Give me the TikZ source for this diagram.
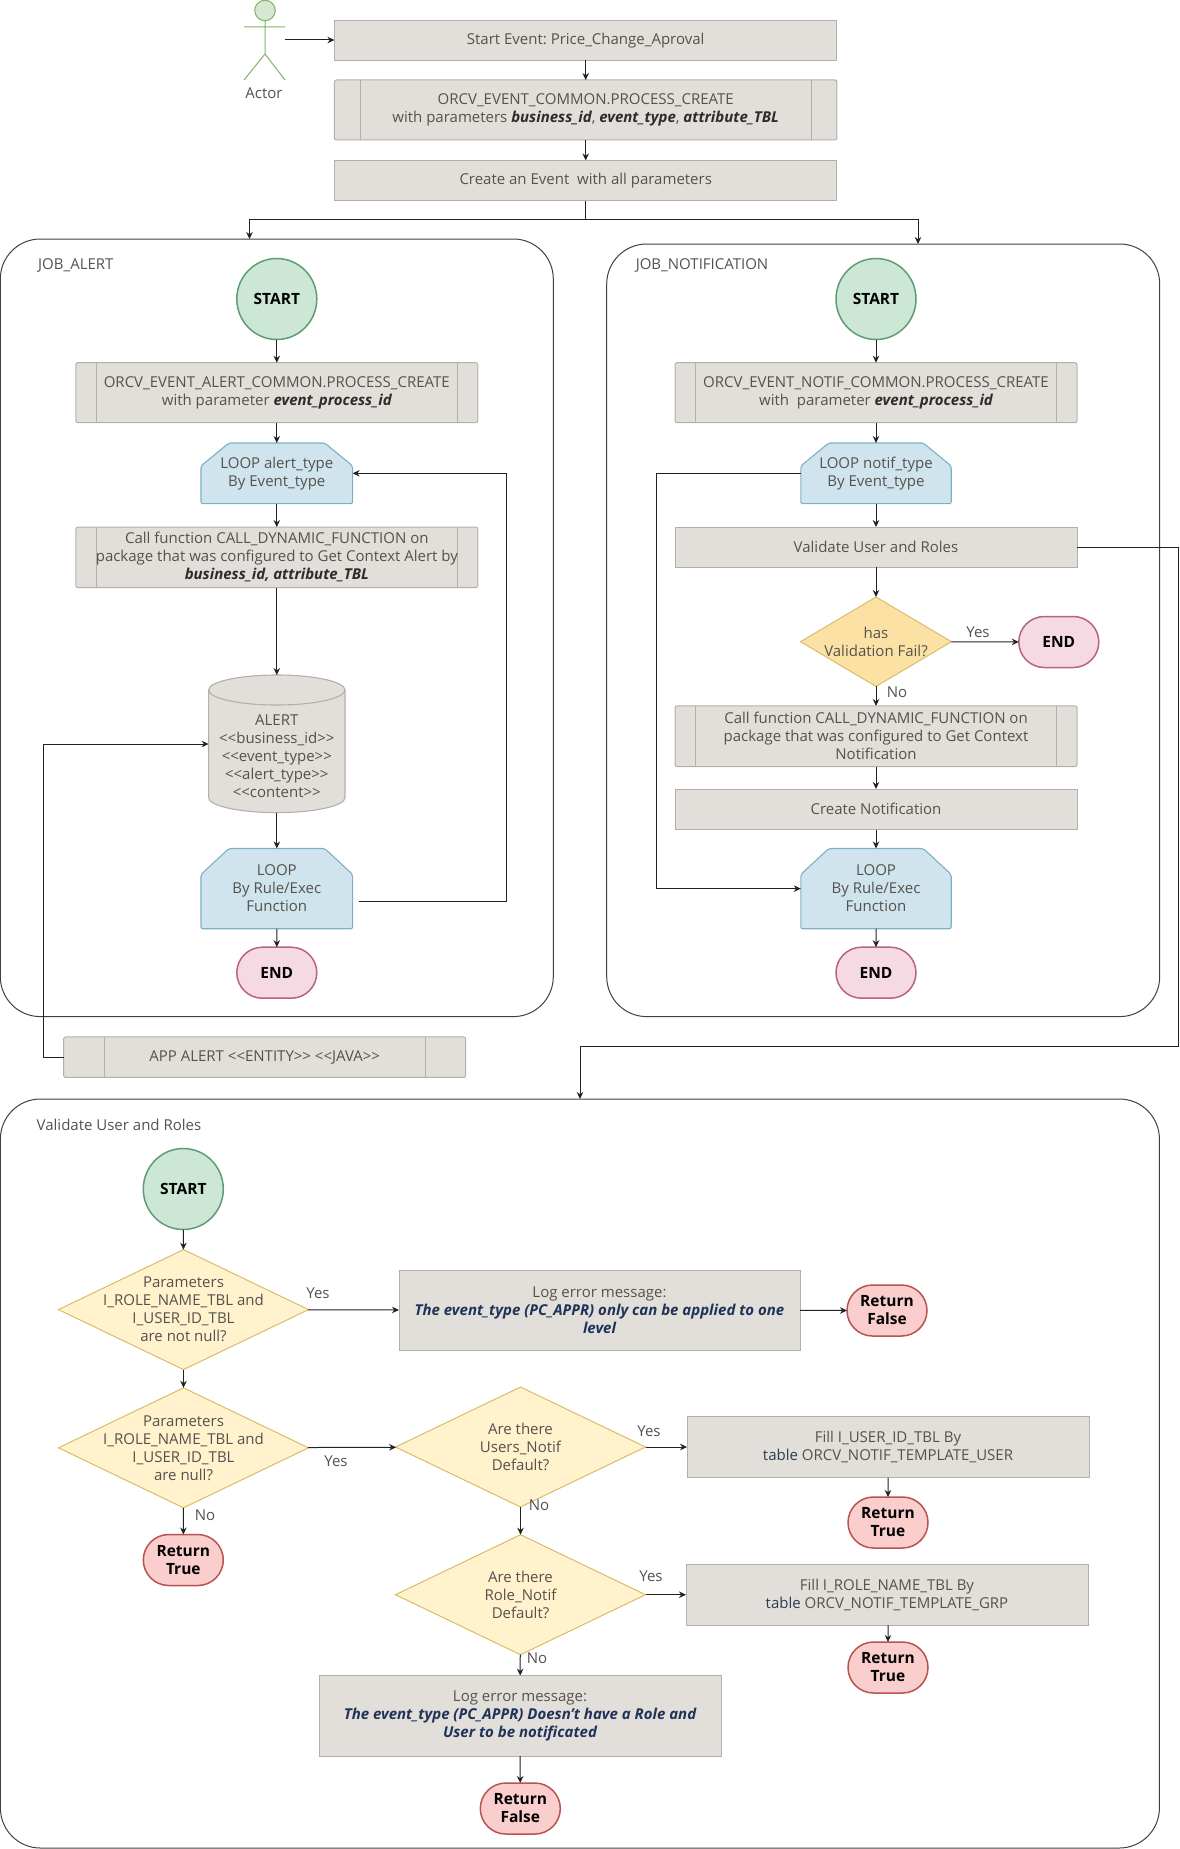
\documentclass[tikz,border=0pt]{standalone}
\usepackage{fontspec}
\setmainfont{Open Sans}
\frenchspacing
\usetikzlibrary{arrows.meta,shapes.geometric,shapes.misc,calc}
\definecolor{gfill}{HTML}{E2DFDA}
\definecolor{gline}{HTML}{B2B0AA}
\definecolor{txtc}{HTML}{55524D}
\definecolor{navy}{HTML}{1F3358}
\definecolor{dkb}{HTML}{2E2C2A}
\definecolor{line}{HTML}{222222}
\newcommand{\bdi}[1]{{\bfseries\itshape\color{dkb}#1}}
\newcommand{\nvi}[1]{{\bfseries\itshape\color{navy}#1}}
\newcommand{\hexbg}[6]{\draw[hexs] ({#1-#3/2},{#2+#4/2}) -- ({#1-#3/2},{#2-#4/2+#6}) -- ({#1-#3/2+#5},{#2-#4/2}) -- ({#1+#3/2-#5},{#2-#4/2}) -- ({#1+#3/2},{#2-#4/2+#6}) -- ({#1+#3/2},{#2+#4/2}) -- cycle;}
\definecolor{startf}{HTML}{CCE7D6}
\definecolor{startl}{HTML}{5E9C73}
\definecolor{endf}{HTML}{F5DAE3}
\definecolor{endl}{HTML}{B9637E}
\definecolor{retf}{HTML}{F9CECC}
\definecolor{retl}{HTML}{B85450}
\definecolor{bluf}{HTML}{D0E4EE}
\definecolor{blul}{HTML}{7FAFC6}
\definecolor{diyf}{HTML}{FFF2CC}
\definecolor{diyl}{HTML}{D9BD6A}
\definecolor{diof}{HTML}{FBE2A4}
\definecolor{actf}{HTML}{D5E8D4}
\definecolor{actl}{HTML}{82B366}
\tikzset{
  x=1pt,y=-1pt,
  every node/.style={inner sep=0pt,outer sep=0pt,align=center,text=txtc,font=\fontsize{15}{18}\selectfont},
  sz/.style 2 args={minimum width=#1,minimum height=#2},
  plainbox/.style={rectangle,draw=gline,fill=gfill,line width=1pt},
  procbox/.style={rectangle,rounded corners=2pt,draw=gline,fill=gfill,line width=1pt,
    path picture={\draw[gline,line width=.8pt]
      ([xshift=#1]path picture bounding box.north west)--([xshift=#1]path picture bounding box.south west)
      ([xshift=-#1]path picture bounding box.north east)--([xshift=-#1]path picture bounding box.south east);}},
  startn/.style={ellipse,draw=startl,fill=startf,line width=1.5pt,minimum width=80pt,minimum height=81pt,font=\fontsize{15.5}{18}\selectfont\bfseries,text=black},
  endn/.style={rounded rectangle,draw=endl,fill=endf,line width=1.5pt,minimum width=80pt,minimum height=51pt,font=\fontsize{15.5}{18}\selectfont\bfseries,text=black},
  retn/.style={rounded rectangle,draw=retl,fill=retf,line width=1.5pt,minimum width=80pt,minimum height=51pt,font=\fontsize{15.5}{18}\selectfont\bfseries,text=black},
  hexs/.style={rounded corners=2pt,draw=blul,fill=bluf,line width=1.1pt},
  dia/.style={diamond,draw=diyl,fill=diyf,line width=1pt,minimum width=250pt,minimum height=120pt,aspect=2.08},
  cont/.style={rectangle,rounded corners=40pt,draw=black!75,line width=1pt},
  conn/.style={draw=line,line width=1pt,-{Stealth[length=7pt,width=6.5pt]}},
  conn0/.style={draw=line,line width=1pt},
}
\begin{document}
\begin{tikzpicture}
\useasboundingbox (0,0) rectangle (1180,1849);
% containers
\node[cont,sz={553pt}{777.6pt}] (calert) at (276.8,627.8) {};
\node[cont,sz={553pt}{772.6pt}] (cnotif) at (883.2,630.3) {};
\node[cont,sz={1159pt}{749pt}] (cval) at (579.9,1473.5) {};
\node (lalert) at (75.8,265.7) {JOB\_ALERT};
\node (lnotif) at (702,265.7) {JOB\_NOTIFICATION};
\node (lval) at (119,1124.5) {Validate User and Roles};
% actor
\node[circle,draw=actl,fill=actf,line width=1pt,minimum size=20.5pt] (head) at (265,10.5) {};
\coordinate (neck) at (265,21);
\coordinate (hip) at (265,54);
\coordinate (arml) at (244,27);
\coordinate (armr) at (285,27);
\coordinate (legl) at (244,80);
\coordinate (legr) at (285,80);
\draw[draw=actl,line width=1pt] (neck)--(hip) (arml)--(armr) (legl)--(hip)--(legr);
\node (actor) at (264,93.5) {Actor};
\coordinate (actout) at (285,40);
% top
\node[plainbox,sz={502.5pt}{40pt}] (b1) at (585.7,40.5) {Start Event: Price\_Change\_Aproval};
\node[procbox=25.5pt,sz={502.5pt}{60pt}] (b2) at (585.7,110) {ORCV\_EVENT\_COMMON.PROCESS\_CREATE\\with parameters \bdi{business\_id}, \bdi{event\_type}, \bdi{attribute\_TBL}};
\node[plainbox,sz={502.5pt}{40.5pt}] (b3) at (585.7,180.7) {Create an Event \ with all parameters};
% alert
\node[startn] (sa) at (276.8,299) {START};
\node[procbox=20.5pt,sz={402pt}{60pt}] (pa) at (276.8,392.7) {ORCV\_EVENT\_ALERT\_COMMON.PROCESS\_CREATE\\with parameter \bdi{event\_process\_id}};
\hexbg{276.8}{473.3}{151.7}{60.7}{28}{23}
\node[rectangle,sz={151.7pt}{60.7pt}] (la) at (276.8,473.3) {LOOP alert\_type\\By Event\_type};
\node[procbox=20.5pt,sz={402pt}{60.6pt}] (ca) at (276.8,557.3) {Call function CALL\_DYNAMIC\_FUNCTION on\\package that was configured to Get Context Alert by\\\bdi{business\_id, attribute\_TBL}};
% cylinder
\node[rectangle,sz={136.4pt}{137.6pt}] (db) at (276.8,743.8) {};
\draw[draw=gline,fill=gfill,line width=1.1pt] (208.6,690) -- (208.6,797.6) .. controls (208.6,805.9) and (239.1,812.6) .. (276.8,812.6) .. controls (314.5,812.6) and (345,805.9) .. (345,797.6) -- (345,690) .. controls (345,681.7) and (314.5,675) .. (276.8,675) .. controls (239.1,675) and (208.6,681.7) .. (208.6,690) -- cycle;
\draw[draw=gline,line width=1.1pt] (208.6,690) .. controls (208.6,698.3) and (239.1,705) .. (276.8,705) .. controls (314.5,705) and (345,698.3) .. (345,690);
\node (dbt) at (276.8,756) {ALERT\\<{}<business\_id>{}>\\<{}<event\_type>{}>\\<{}<alert\_type>{}>\\<{}<content>{}>};
\hexbg{276.8}{888.6}{151.7}{80.3}{28}{26}
\node[rectangle,sz={151.7pt}{80.3pt}] (lb) at (276.8,888.6) {LOOP\\By Rule/Exec\\Function};
\node[endn] (ea) at (276.8,972.7) {END};
\node[procbox=40.3pt,sz={402pt}{40.5pt}] (app) at (264.7,1057.2) {APP ALERT <{}<ENTITY>{}> <{}<JAVA>{}>};
% notif
\node[startn] (sn) at (876,299) {START};
\node[procbox=20.5pt,sz={402pt}{60pt}] (pn) at (876,392.7) {ORCV\_EVENT\_NOTIF\_COMMON.PROCESS\_CREATE\\with \ parameter \bdi{event\_process\_id}};
\hexbg{876}{473.3}{150.4}{60.7}{28}{23}
\node[rectangle,sz={150.4pt}{60.7pt}] (ln) at (876,473.3) {LOOP notif\_type\\By Event\_type};
\node[plainbox,sz={402pt}{40.4pt}] (vn) at (876,547.2) {Validate User and Roles};
\node[diamond,draw=diyl,fill=diof,line width=1pt,minimum width=151pt,minimum height=89.4pt,aspect=1.69,
  label={[text=txtc]center:has\\Validation Fail?}] (dn) at (876,641.7) {};
\node[endn] (en) at (1058.8,642) {END};
\node[procbox=20.5pt,sz={402pt}{60.7pt}] (cn) at (876,736.3) {Call function CALL\_DYNAMIC\_FUNCTION on\\package that was configured to Get Context\\Notification};
\node[plainbox,sz={402pt}{40.6pt}] (cr) at (876,809.3) {Create Notification};
\hexbg{876}{888.6}{150.4}{80.3}{28}{26}
\node[rectangle,sz={150.4pt}{80.3pt}] (lc) at (876,888.6) {LOOP\\By Rule/Exec\\Function};
\node[endn] (eb) at (876,972.7) {END};
\node (y1) at (978,632) {Yes};
\node (n1) at (897,692) {No};
% validate
\node[startn] (sv) at (183.3,1189) {START};
\node[dia,label={[text=txtc]center:Parameters\\I\_ROLE\_NAME\_TBL and\\I\_USER\_ID\_TBL\\are not null?}] (d1) at (183.5,1309.6) {};
\node[plainbox,sz={401pt}{80.6pt}] (log1) at (599.5,1310.3) {Log error message:\\\nvi{The event\_type (PC\_APPR) only can be applied to one}\\\nvi{level}};
\node[retn] (r1) at (887,1310.5) {Return\\False};
\node (y2) at (318,1293) {Yes};
\node[dia,label={[text=txtc]center:Parameters\\I\_ROLE\_NAME\_TBL and\\I\_USER\_ID\_TBL\\are null?}] (d2) at (183.5,1447.8) {};
\node[retn] (r2) at (183.3,1560) {Return\\True};
\node (n2) at (205,1515.5) {No};
\node (y3) at (336,1461) {Yes};
\node[dia,label={[text=txtc]center:Are there\\Users\_Notif\\Default?}] (d3) at (520.5,1447) {};
\node (y4) at (649,1431.7) {Yes};
\node (n3) at (539,1505.6) {No};
\node[plainbox,sz={402pt}{61pt}] (f1) at (888,1447) {Fill I\_USER\_ID\_TBL By\\{\color{navy!75!txtc}table} ORCV\_NOTIF\_TEMPLATE\_USER};
\node[retn] (r3) at (888,1522.5) {Return\\True};
\node[dia,label={[text=txtc]center:Are there\\Role\_Notif\\Default?}] (d4) at (520.5,1594.7) {};
\node (y5) at (651,1576) {Yes};
\node (n4) at (537,1658) {No};
\node[plainbox,sz={402pt}{60.7pt}] (f2) at (887,1594.7) {Fill I\_ROLE\_NAME\_TBL By\\{\color{navy!75!txtc}table} ORCV\_NOTIF\_TEMPLATE\_GRP};
\node[retn] (r4) at (888,1667.5) {Return\\True};
\node[plainbox,sz={402pt}{80.4pt}] (log2) at (520,1715.8) {Log error message:\\\nvi{The event\_type (PC\_APPR) Doesn't have a Role and}\\\nvi{User to be notificated}};
\node[retn] (r5) at (520.3,1808.5) {Return\\False};
% connectors
\draw[conn] (actout)--(actout-|b1.west);
\draw[conn] (b1)--(b2);
\draw[conn] (b2)--(b3);
\coordinate (split) at (585.7,219.5);
\coordinate (tl) at (249.5,219.5);
\coordinate (tr) at (918,219.5);
\draw[conn0] (b3)--(split);
\draw[conn] (split)--(tl)--(tl|-calert.north);
\draw[conn] (split)--(tr)--(tr|-cnotif.north);
% alert flow
\draw[conn] (sa)--(pa);
\draw[conn] (pa)--(la);
\draw[conn] (la)--(ca);
\draw[conn] (ca)--(db.north);
\draw[conn] (db.south)--(lb);
\draw[conn] (lb)--(ea);
\coordinate (lbout) at (359,901);
\coordinate (rb) at (506,901);
\coordinate (rt) at (506,473.3);
\draw[conn] (lbout)--(rb)--(rt)--(la.east);
\coordinate (appl) at (43,1057.2);
\coordinate (appt) at (43,744);
\draw[conn] (app.west)--(appl)--(appt)--(appt-|db.west);
% notif flow
\draw[conn] (sn)--(pn);
\draw[conn] (pn)--(ln);
\draw[conn] (ln)--(vn);
\draw[conn] (vn)--(dn);
\draw[conn] (dn)--(en);
\draw[conn] (dn)--(cn);
\draw[conn] (cn)--(cr);
\draw[conn] (cr)--(lc);
\draw[conn] (lc)--(eb);
\coordinate (nt) at (656.8,473.3);
\coordinate (nb) at (656.8,888.6);
\draw[conn] (ln.west)--(nt)--(nb)--(lc.west);
\coordinate (vr) at (1178,547.2);
\coordinate (vb) at (1178,1046);
\coordinate (vl) at (580,1046);
\draw[conn] (vn.east)--(vr)--(vb)--(vl)--(vl|-cval.north);
% validate flow
\draw[conn] (sv)--(d1);
\draw[conn] (d1)--(d2);
\draw[conn] (d1)--(log1);
\draw[conn] (log1)--(r1);
\draw[conn] (d2)--(r2);
\draw[conn] (d2)--(d3);
\draw[conn] (d3)--(f1);
\draw[conn] (f1)--(r3);
\draw[conn] (d3)--(d4);
\draw[conn] (d4)--(f2);
\draw[conn] (f2.south-|r4)--(r4);
\draw[conn] (d4)--(log2);
\draw[conn] (log2)--(r5);
\end{tikzpicture}
\end{document}
